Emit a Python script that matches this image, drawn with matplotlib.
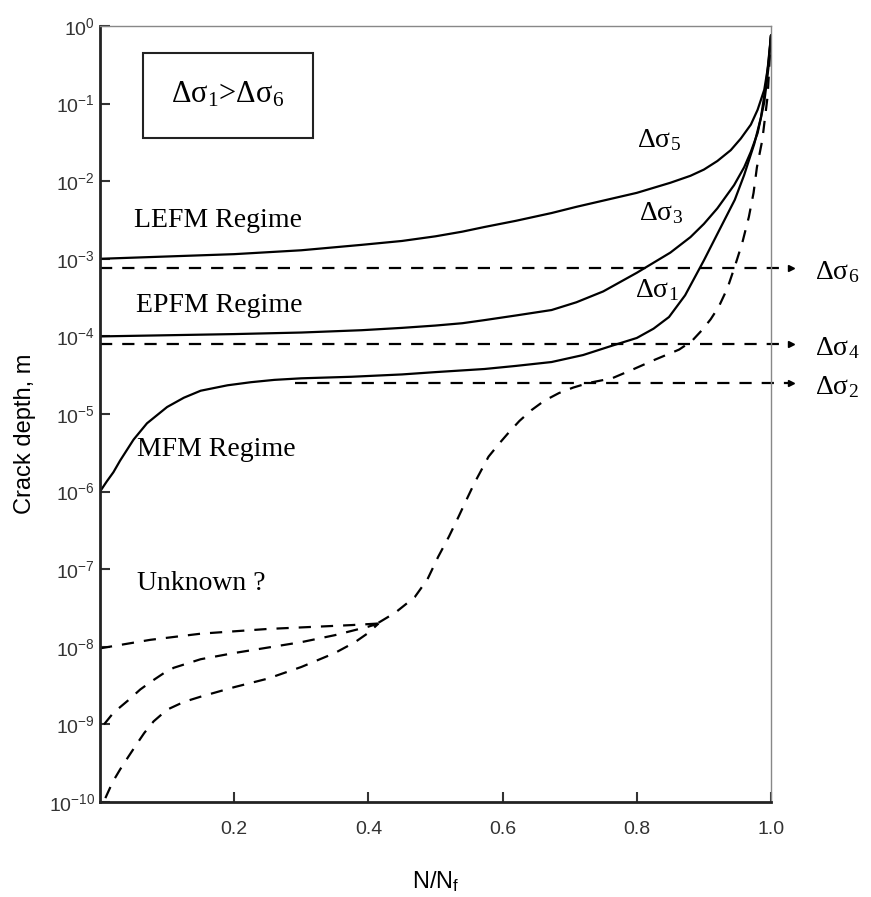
import matplotlib
matplotlib.use("Agg")
import matplotlib.pyplot as plt
import numpy as np
from matplotlib.patches import Rectangle

plt.rcParams['font.family'] = 'Liberation Sans'
plt.rcParams['mathtext.default'] = 'regular'

# solid curves (x = N/Nf, y = log10 crack depth)
s5_x = [0.0, 0.1, 0.2, 0.3, 0.39, 0.45, 0.5, 0.54, 0.573, 0.62, 0.673, 0.71, 0.75, 0.8, 0.85, 0.88,
        0.9, 0.92, 0.94, 0.955, 0.97, 0.98, 0.99, 0.996, 1.0]
s5_y = [-3.0, -2.97, -2.94, -2.89, -2.82, -2.77, -2.71, -2.65, -2.59, -2.51, -2.41, -2.33, -2.25, -2.15, -2.02, -1.93,
        -1.85, -1.74, -1.6, -1.45, -1.27, -1.08, -0.82, -0.5, -0.12]

s3_x = [0.0, 0.2, 0.3, 0.39, 0.45, 0.5, 0.54, 0.573, 0.62, 0.673, 0.71, 0.75, 0.8, 0.85, 0.88, 0.9, 0.92,
        0.945, 0.96, 0.97, 0.98, 0.99, 0.996, 1.0]
s3_y = [-4.0, -3.97, -3.95, -3.92, -3.89, -3.86, -3.83, -3.79, -3.73, -3.66, -3.56, -3.42, -3.18, -2.92, -2.72, -2.55, -2.35,
        -2.05, -1.82, -1.62, -1.38, -0.98, -0.55, -0.12]

s1_x = [0.0, 0.01, 0.02, 0.03, 0.05, 0.07, 0.1, 0.125, 0.15, 0.19, 0.225, 0.26, 0.3, 0.375, 0.45, 0.5, 0.573,
        0.62, 0.673, 0.72, 0.763, 0.8, 0.825, 0.848, 0.872, 0.9, 0.92, 0.946, 0.96, 0.975, 0.985, 0.993, 1.0]
s1_y = [-6.0, -5.87, -5.75, -5.6, -5.33, -5.12, -4.91, -4.79, -4.7, -4.63, -4.59, -4.56, -4.54, -4.52, -4.49, -4.46, -4.42,
        -4.38, -4.33, -4.24, -4.12, -4.02, -3.9, -3.75, -3.47, -3.02, -2.68, -2.24, -1.92, -1.52, -1.18, -0.72, -0.12]

# dashed "unknown" curves
ua_x = [0.0, 0.075, 0.151, 0.25, 0.375, 0.415]
ua_y = [-8.02, -7.91, -7.83, -7.77, -7.72, -7.7]
ub_x = [0.006, 0.02, 0.042, 0.06, 0.076, 0.095, 0.11, 0.15, 0.2, 0.25, 0.3, 0.35, 0.4, 0.415]
ub_y = [-9.0, -8.85, -8.69, -8.55, -8.45, -8.34, -8.27, -8.16, -8.08, -8.01, -7.94, -7.85, -7.74, -7.7]
uc_x = [0.008, 0.019, 0.03, 0.042, 0.055, 0.066, 0.08, 0.1, 0.125, 0.151, 0.2, 0.25, 0.3, 0.35, 0.38, 0.4, 0.415]
uc_y = [-9.95, -9.74, -9.58, -9.42, -9.25, -9.11, -8.96, -8.81, -8.71, -8.64, -8.52, -8.41, -8.26, -8.08, -7.94, -7.82, -7.7]

# dashed S-curve up to failure
d_x = [0.415, 0.44, 0.469, 0.488, 0.504, 0.52, 0.534, 0.547, 0.558, 0.579, 0.595, 0.609, 0.625, 0.643, 0.662,
       0.684, 0.705, 0.728, 0.763, 0.793, 0.827, 0.863, 0.882, 0.897, 0.91, 0.922, 0.935, 0.946, 0.957, 0.967,
       0.974, 0.979, 0.987, 0.995, 1.0]
d_y = [-7.69, -7.56, -7.36, -7.13, -6.84, -6.58, -6.33, -6.09, -5.89, -5.55, -5.38, -5.24, -5.09, -4.95, -4.83,
       -4.73, -4.66, -4.6, -4.54, -4.43, -4.3, -4.17, -4.06, -3.92, -3.78, -3.62, -3.38, -3.1, -2.8, -2.46,
       -2.15, -1.82, -1.47, -0.9, -0.12]

# horizontal stress thresholds
h_names = ["6", "4", "2"]
h_start = [0.0, 0.0, 0.29]
h_level = [-3.12, -4.1, -4.6]
h_end = 1.03

fig = plt.figure(figsize=(8.71, 8.97), dpi=100)
ax = fig.add_axes([0.1148, 0.1059, 0.7704, 0.8651])

lw = 1.6
dash = (0, (5.5, 4.5))
for xs, ys in [(s5_x, s5_y), (s3_x, s3_y), (s1_x, s1_y)]:
    ax.plot(xs, 10 ** np.array(ys), color="black", lw=lw, solid_capstyle="round", solid_joinstyle="round")
for xs, ys in [(ua_x, ua_y), (ub_x, ub_y), (uc_x, uc_y), (d_x, d_y)]:
    ax.plot(xs, 10 ** np.array(ys), color="black", lw=lw, linestyle=dash)

for x0, lv in zip(h_start, h_level):
    ax.plot([x0, h_end], [10 ** lv, 10 ** lv], color="black", lw=lw, linestyle=dash, clip_on=False)
    ax.plot([h_end], [10 ** lv], marker=">", color="black", ms=5, clip_on=False)

ax.set_yscale("log")
ax.set_xlim(0, 1.0)
ax.set_ylim(1e-10, 1)
ax.set_yticks([10.0 ** k for k in range(-10, 1)])
ax.yaxis.set_minor_locator(matplotlib.ticker.NullLocator())
ax.set_xticks([0.2, 0.4, 0.6, 0.8, 1.0])
ax.set_xticklabels(["0.2", "0.4", "0.6", "0.8", "1.0"])
ax.tick_params(direction="in", length=7, width=1.5, labelsize=14, colors="#333333")
ax.tick_params(axis="x", pad=14)

for s in ["left", "bottom"]:
    ax.spines[s].set_linewidth(2)
    ax.spines[s].set_color("#222222")
for s in ["top", "right"]:
    ax.spines[s].set_linewidth(1)
    ax.spines[s].set_color("#888888")

ax.set_xlabel("N/N$_f$", fontsize=17, labelpad=22)
ax.set_ylabel("Crack depth, m", fontsize=17)
ax.yaxis.set_label_coords(-0.095, 0.475)

serif = "Liberation Serif"
ax.text(0.051, 10 ** -2.5, "LEFM Regime", family=serif, fontsize=20, va="center")
ax.text(0.053, 10 ** -3.6, "EPFM Regime", family=serif, fontsize=20, va="center")
ax.text(0.055, 10 ** -5.46, "MFM Regime", family=serif, fontsize=20, va="center")
ax.text(0.055, 10 ** -7.18, "Unknown ?", family=serif, fontsize=20, va="center")

ax.text(0.80, 10 ** -1.47, r"$\Delta\sigma_{5}$", family=serif, fontsize=20, va="center")
ax.text(0.804, 10 ** -2.41, r"$\Delta\sigma_{3}$", family=serif, fontsize=20, va="center")
ax.text(0.797, 10 ** -3.40, r"$\Delta\sigma_{1}$", family=serif, fontsize=20, va="center")
for nm, lv in zip(h_names, h_level):
    ax.text(1.066, 10 ** (lv - 0.05), r"$\Delta\sigma_{%s}$" % nm, family=serif, fontsize=20, va="center")

ax.add_patch(Rectangle((0.064, 0.856), 0.253, 0.109, transform=ax.transAxes,
                       fill=False, lw=1.5, edgecolor="#222222"))
ax.text(0.19, 0.912, r"$\Delta\sigma_{1}$>$\Delta\sigma_{6}$", transform=ax.transAxes,
        family=serif, fontsize=22, ha="center", va="center")

fig.savefig("out.png", dpi=100)
